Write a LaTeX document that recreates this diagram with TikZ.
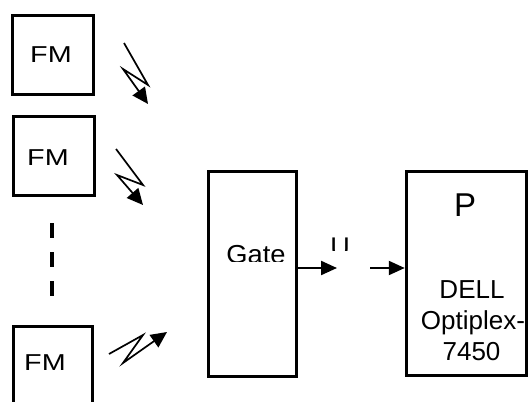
\documentclass[tikz,border=0pt]{standalone}
\usepackage{fontspec}
\setmainfont{Liberation Sans}
\usetikzlibrary{arrows.meta}
\begin{document}
\begin{tikzpicture}[x=1pt,y=-1pt,
  box/.style={draw,line width=3.5pt,inner sep=0pt},
  lbl/.style={inner sep=0pt,anchor=base,font=\fontsize{26}{30}\selectfont},
  zig/.style={line width=1.7pt,-{Triangle[length=16pt,width=15pt]}},
  arr/.style={line width=2.2pt,-{Triangle[length=16pt,width=14pt]}},
  dashline/.style={line width=4pt,dash pattern=on 15pt off 14pt}]
\useasboundingbox (0,0) rectangle (529,401);
\clip (0,0) rectangle (529,401);
% boxes
\node[box,minimum width=81pt,minimum height=79pt] (fm1) at (53,55) {};
\node[box,minimum width=81pt,minimum height=79pt] (fm2) at (54,156) {};
\node[box,minimum width=79pt,minimum height=120pt] (fm3) at (53,386.5) {};
\node[box,minimum width=88pt,minimum height=205pt] (gate) at (252.5,274) {};
\node[box,minimum width=120pt,minimum height=204pt] (p) at (466.5,273.5) {};
% labels
\node[lbl,font=\fontsize{23}{28}\selectfont,xscale=1.25] (t1) at (51,63) {FM};
\node[lbl,font=\fontsize{23}{28}\selectfont,xscale=1.25] (t2) at (48,165) {FM};
\node[lbl,font=\fontsize{23}{28}\selectfont,xscale=1.25] (t3) at (45,370) {FM};
\begin{scope}
  \clip (0,0) rectangle (529,261);
  \node[lbl,xscale=1.05] (tg) at (256,263) {Gate};
\end{scope}
\begin{scope}
  \clip (0,0) rectangle (529,250);
  \node[lbl,font=\fontsize{27}{30}\selectfont] (tu) at (340,256) {U};
\end{scope}
\node[lbl,font=\fontsize{33}{36}\selectfont] (tp) at (465,216) {P};
\node[lbl] (d1) at (472,298) {DELL};
\node[lbl] (d2) at (473,329) {Optiplex-};
\node[lbl] (d3) at (471.5,360) {7450};
% dashed continuation
\coordinate (da) at (52,223);
\coordinate (db) at (52,297);
\draw[dashline] (da) -- (db);
% wireless links
\coordinate (a1) at (124,43);
\coordinate (b1) at (148,85);
\coordinate (c1) at (123,69);
\coordinate (e1) at (148,104);
\draw[zig] (a1) -- (b1) -- (c1) -- (e1);
\coordinate (a2) at (116,149);
\coordinate (b2) at (143,185);
\coordinate (c2) at (117,175);
\coordinate (e2) at (143,205);
\draw[zig] (a2) -- (b2) -- (c2) -- (e2);
\coordinate (a3) at (109,354);
\coordinate (b3) at (143,335);
\coordinate (c3) at (123,363);
\coordinate (e3) at (167,332);
\draw[zig] (a3) -- (b3) -- (c3) -- (e3);
% signal arrows
\coordinate (u1) at (337,268);
\coordinate (u2) at (370,268);
\draw[arr] (gate.east |- u1) -- (u1);
\draw[arr] (u2) -- (p.west |- u2);
\end{tikzpicture}
\end{document}
